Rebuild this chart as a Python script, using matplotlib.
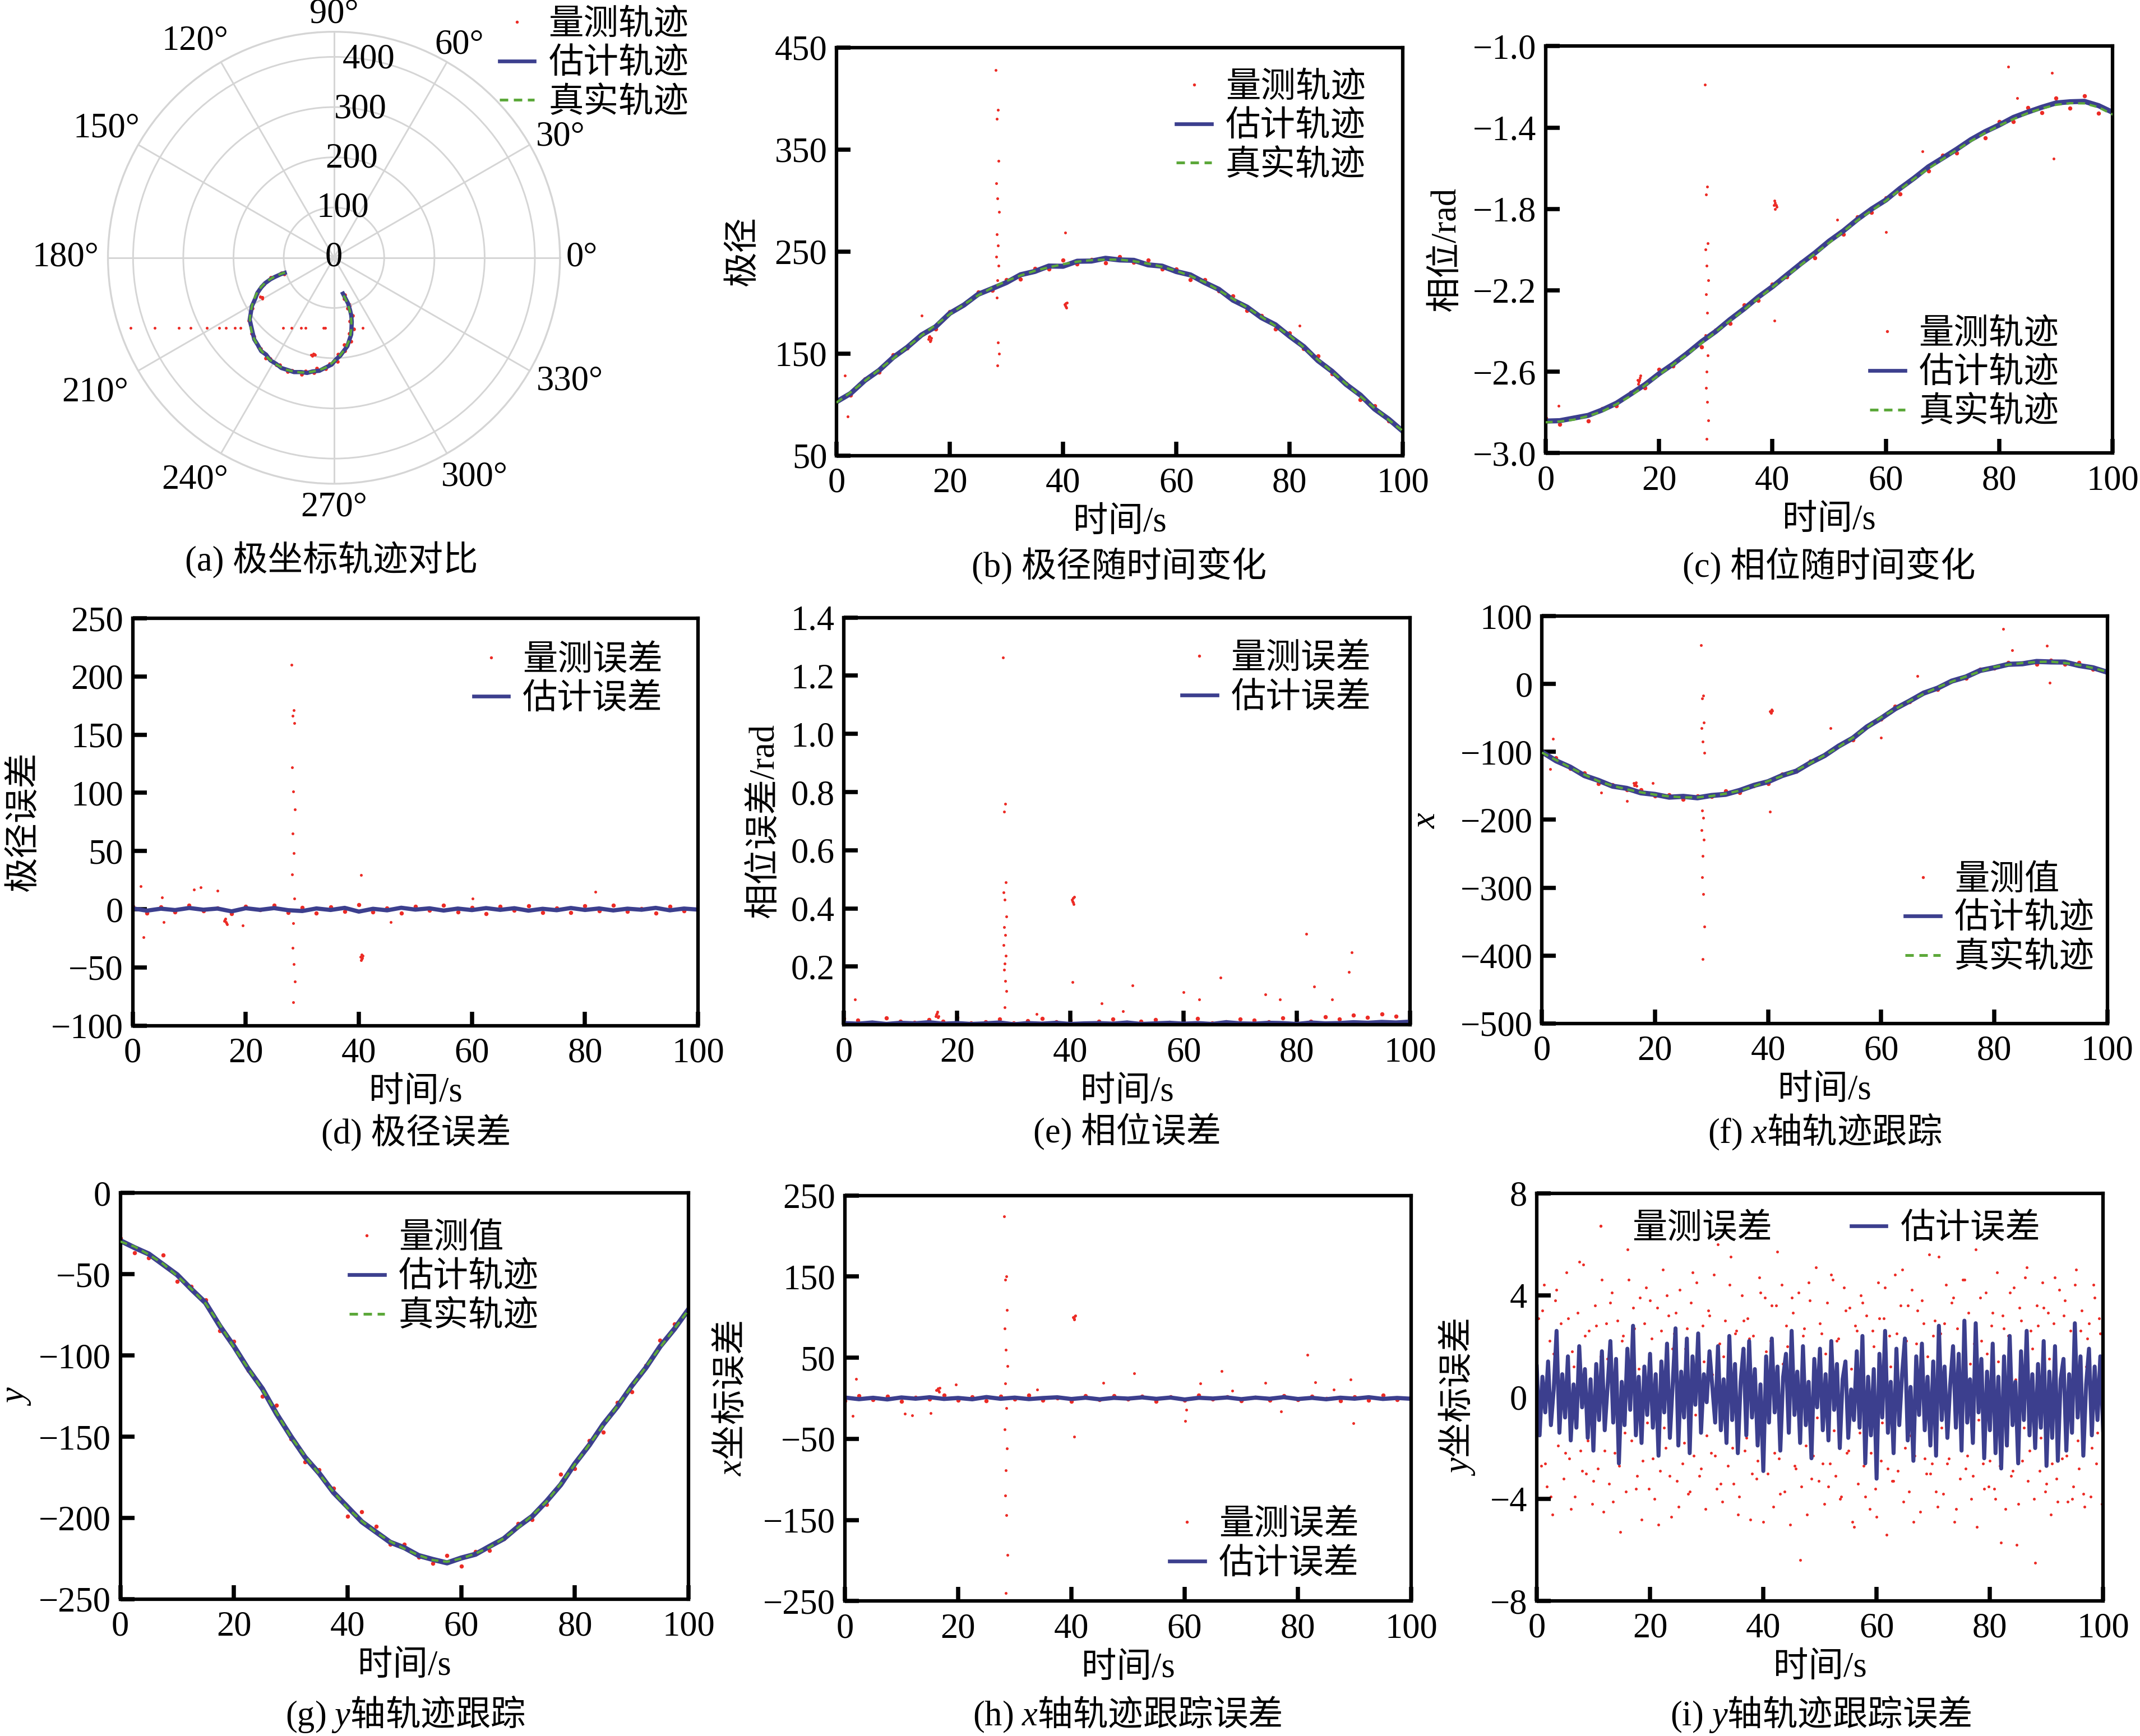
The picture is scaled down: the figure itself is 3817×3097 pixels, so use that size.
import numpy as np
import matplotlib
matplotlib.use("Agg")
import matplotlib.pyplot as plt
from matplotlib.lines import Line2D

plt.rcParams['font.family'] = ['Liberation Serif', 'Noto Sans CJK SC']
plt.rcParams['font.size'] = 15
plt.rcParams['mathtext.fontset'] = 'custom'
plt.rcParams['mathtext.rm'] = 'Liberation Serif'
plt.rcParams['mathtext.it'] = 'Liberation Serif:italic'

RED = '#ec2b25'
NAVY = '#3c3f8e'
GREEN = '#5ca83a'
CJK = 'Noto Sans CJK SC'

# time axes
t = np.arange(0, 100.01, 2.5)          # 41 samples
t_fine = np.arange(0, 100.01, 0.5)     # 201 samples, panel (i)
t_fine_b = np.arange(0.25, 100, 0.5)   # 200 extra measurement samples, panel (i)

# true tracks
rho_true = [101.8, 112, 123, 134, 145, 156.5, 167.5, 178, 188.5, 198,
            207, 214.5, 221, 226.5, 231, 234.5, 237.5, 240, 241.5, 242,
            242, 240.5, 238, 235, 231, 226, 220, 212, 203.5, 195,
            186, 177, 167.5, 156, 144, 132, 120, 108, 96.5, 85,
            74]
theta_true = [-2.849, -2.845, -2.836, -2.818, -2.795, -2.760, -2.719, -2.668, -2.616, -2.565,
              -2.514, -2.460, -2.404, -2.350, -2.295, -2.240, -2.185, -2.130, -2.075, -2.020,
              -1.966, -1.911, -1.856, -1.807, -1.760, -1.705, -1.651, -1.602, -1.555, -1.510,
              -1.466, -1.426, -1.390, -1.358, -1.329, -1.306, -1.288, -1.280, -1.281, -1.300,
              -1.336]
x_true = [-101, -112, -123, -133.5, -143, -150, -155, -159.5, -163, -165.5,
          -167, -167, -165, -161.5, -157, -150.5, -143, -135.5, -127, -116.5,
          -105, -92.5, -79, -64, -49, -37, -25, -14.5, -5, 3.5,
          11, 18.5, 25, 28.5, 31, 32.5, 33, 31, 28, 23.5,
          18]
y_true = [-29.8, -33, -37.8, -43.5, -51, -59, -68, -81, -95, -108,
          -121, -135.5, -150, -162, -173, -184, -194, -202, -209, -214.5,
          -219, -223, -226, -227, -225, -222, -218, -212.5, -206, -198.5,
          -190, -179, -167, -155, -143, -131, -119, -107, -95, -83.5,
          -72]

# errors on the 41-sample grid
rho_err_est = [0.8, -1.2, 0.5, -0.7, 1.1, -0.4, 0.6, -1.8, 0.9, -0.5,
               1.0, -0.8, -1.5, 0.7, -0.6, 1.2, -2.0, 0.4, -0.9, 1.3,
               -0.3, 0.8, -1.1, 0.6, -0.7, 1.0, -0.5, 0.9, -1.2, 0.4,
               -0.8, 1.1, -0.6, 0.7, -1.0, 0.5, -0.4, 1.2, -0.9, 0.6,
               -0.3]
rho_err_meas = [2.5, -3.1, 1.8, -2.4, 3.6, -1.2, 0.9, -3.8, 2.7, -0.6,
                3.2, -2.9, 1.4, -3.5, 2.1, -1.7, 3.9, -2.2, 0.8, -3.3,
                2.6, -1.0, 3.4, -2.5, 1.6, -3.7, 2.3, -0.9, 3.0, -2.8,
                1.1, -3.0, 2.8, -1.5, 3.5, -2.0, 0.7, -3.4, 2.4, -1.3,
                2.9]
x_err_est = [0.9, -1.1, 0.6, -1.4, 1.0, -0.5, 1.3, -0.8, 0.4, -1.2,
             1.5, -0.6, 0.8, -1.0, 0.3, 1.2, -0.9, 0.7, -1.3, 0.5,
             -0.4, 1.1, -0.7, 0.9, -1.5, 0.6, -0.3, 1.0, -1.1, 0.8,
             -0.6, 1.4, -0.9, 0.5, -1.2, 0.7, -0.5, 1.3, -0.8, 0.4,
             -0.6]
x_err_meas = [-2.8, 3.3, -1.5, 2.6, -3.9, 1.2, -0.8, 3.7, -2.3, 1.9,
              -3.2, 2.4, -1.1, 4.0, -2.7, 0.6, -3.5, 2.9, -1.8, 3.1,
              -0.7, 2.2, -3.6, 1.4, -2.5, 3.8, -1.2, 2.0, -3.0, 0.9,
              -2.6, 3.4, -1.6, 2.7, -0.5, -3.3, 1.7, -2.1, 3.6, -1.4,
              2.3]
y_track_err_est = [0.5, -0.6, 0.3, -0.4, 0.7, -0.2, 0.4, -0.8, 0.6, -0.3,
                   0.5, -0.5, 0.2, -0.6, 0.4, -0.3, 0.7, -0.4, 0.3, -0.5,
                   0.6, -0.2, 0.4, -0.7, 0.3, -0.4, 0.5, -0.3, 0.6, -0.5,
                   0.2, -0.6, 0.4, -0.3, 0.7, -0.4, 0.3, -0.5, 0.6, -0.2,
                   0.4]
theta_err_est = [0.006, 0.004, 0.008, 0.003, 0.007, 0.005, 0.009, 0.004, 0.006, 0.003,
                 0.005, 0.008, 0.002, 0.006, 0.004, 0.007, 0.003, 0.005, 0.006, 0.004,
                 0.008, 0.003, 0.005, 0.007, 0.004, 0.006, 0.003, 0.009, 0.005, 0.004,
                 0.007, 0.006, 0.003, 0.008, 0.005, 0.006, 0.009, 0.007, 0.010, 0.008,
                 0.011]
theta_err_meas = [0.021, -0.015, 0.009, -0.024, 0.013, -0.008, 0.018, -0.012, 0.026, -0.006,
                  0.011, -0.019, 0.007, -0.014, 0.022, -0.010, 0.016, -0.005, 0.012, -0.020,
                  0.008, -0.013, 0.017, -0.009, 0.015, -0.021, 0.006, -0.011, 0.019, -0.016,
                  0.010, -0.024, 0.018, -0.012, 0.028, -0.020, 0.033, -0.025, 0.038, -0.030,
                  0.044]

# y error on the fine grid (panel i)
y_err_est = [1.2, -1.5, 0.8, -0.6, 1.4, -1.1, 0.3, 2.6, -1.4, 0.9, -0.8, 1.6, -1.7, 0.5, -1.2, 2.0, -0.4, 1.1, -1.6, 0.7,
             -2.1, 1.3, -0.9, 1.8, -1.3, 0.4, 2.2, -1.0, 1.5, -2.6, 0.6, -1.1, 1.9, -0.5, 2.8, -1.5, 0.8, -1.8, 1.2, -0.7,
             1.7, -1.2, 0.9, -2.3, 1.4, -0.6, 2.1, -1.6, 0.5, 2.7, -1.9, 1.0, -0.8, 2.3, -2.2, 1.6, -0.3, 2.5, -1.4, 0.9,
             -0.2, 1.8, 0.4, -1.0, 2.0, -1.3, 0.7, -1.8, 2.4, -0.9, 1.3, -2.2, 0.6, 1.9, -1.5, 2.2, -0.8, 1.1, -1.9, 0.5,
             -2.9, 1.6, -1.0, 2.3, -0.6, 1.2, -2.1, 0.8, 1.7, -1.4, 2.6, -0.7, 1.0, -1.8, 2.0, -1.1, 0.6, -2.4, 1.5, -0.4,
             1.9, -1.3, 0.9, -1.7, 2.2, -0.5, 1.3, -2.0, 0.7, 1.4, -1.6, 0.3, -0.9, 1.8, -1.2, 2.4, -2.6, 0.8, -1.5, 1.1,
             -3.2, 1.7, -0.8, 2.6, -1.4, 0.6, -2.2, 1.9, -1.1, 0.9, 2.3, -1.7, 0.4, -2.5, 1.6, -0.7, 2.1, -1.3, 0.8, -1.9,
             1.4, -2.3, 2.8, -0.9, 1.2, -1.6, 0.5, 2.0, -1.2, 1.7, -2.1, 3.0, -1.0, 0.7, -1.8, 2.9, -0.6, 1.5, -2.4, 1.0,
             -1.3, 2.1, -2.2, 0.8, -2.8, 1.6, -1.9, 2.4, -1.1, 0.6, -2.6, 1.8, -0.9, 2.6, -1.5, 0.9, -2.0, 1.3, -1.2, 2.2,
             -2.7, 1.0, -1.6, 2.0, -2.5, 0.7, 1.5, -2.1, 0.9, -1.4, 2.9, -0.8, 1.6, -2.3, 0.5, 1.9, -1.5, 1.2, -0.9, 1.6,
             -1.3]
y_err_meas = [2.1, -0.8, 3.4, -2.6, 0.4, -3.9, 1.7, 4.2, -1.3, 0.9, -2.2, 3.1, -4.4, 1.2, -0.6, 5.3, -2.9, 2.4, -1.7, 0.3,
              -3.3, 2.8, -0.9, 4.6, -2.1, 1.5, 3.7, -4.1, 0.6, -2.7, 2.2, -1.4, 5.8, -0.2, 3.5, -3.6, 1.1, -4.8, 2.9, -1.0,
              3.8, -2.4, 0.8, -5.0, 2.6, -1.2, 4.0, -3.1, 1.9, 3.3, -4.3, 0.5, -1.8, 2.7, -3.7, 4.9, -0.7, 2.0, -2.8, 1.4,
              -1.5, 3.2, 0.9, -2.3, 6.0, -3.4, 1.6, -0.4, 4.4, -2.0, 2.5, -4.6, 1.0, 3.0, -1.6, 2.3, -3.0, 0.7, -2.5, 4.1,
              -4.9, 1.8, -0.5, 3.6, -2.2, 5.7, -3.8, 1.3, 2.8, -1.1, 3.9, -2.7, 0.2, -6.4, 2.4, -1.9, 4.5, -3.2, 1.5, -0.8,
              2.9, -2.6, 1.7, -3.5, 4.8, -1.3, 2.2, -4.0, 0.9, 3.4, -2.1, 1.1, -5.1, 2.6, -1.4, 3.7, -3.9, 0.6, -2.2, 2.0,
              -4.7, 3.1, -1.0, 4.3, -2.8, 1.2, -3.3, 2.5, -0.6, 5.0, -2.0, 3.6, -1.5, -4.9, 2.1, -0.3, 3.8, -2.4, 1.6, -3.0,
              2.4, -3.7, 5.5, -1.2, 2.9, -2.6, 1.0, 3.9, -4.4, 0.8, -1.8, 4.6, -2.3, 1.3, -3.1, 5.8, -0.9, 2.2, -3.6, 1.7,
              -2.5, 3.3, -4.0, 1.4, -5.7, 2.7, -1.9, 4.1, -2.9, 0.7, -4.2, 3.0, -1.2, 5.1, -2.1, 1.9, -6.5, 2.8, -1.6, 3.5,
              -3.4, 1.5, -2.6, 4.7, -4.1, 1.0, 3.2, -2.3, 0.8, -4.0, 4.4, -1.7, 2.6, -3.8, 1.2, 2.9, -2.0, 3.9, -1.4, 2.5,
              -2.2]
y_err_meas_b = [3.1, -2.7, 4.4, -3.5, 2.2, -4.6, 3.8, -1.9, 2.9, -3.2, 4.9, -2.4, 1.8, -3.9, 3.3, -2.1, 5.2, -3.0, 2.6, -4.2,
                3.6, -2.8, 1.6, -4.5, 2.9, -3.4, 4.1, -2.2, 3.0, -5.3, 2.4, -3.7, 4.6, -1.7, 2.7, -3.1, 3.9, -2.5, 4.3, -3.6,
                2.3, -4.0, 3.5, -2.9, 5.0, -2.0, 3.2, -4.7, 2.5, -3.3, 4.2, -2.6, 1.9, -3.8, 3.7, -2.3, 4.5, -3.1, 2.8, -4.4,
                3.4, -2.2, 4.8, -3.6, 2.1, -4.1, 3.0, -2.7, 5.5, -3.4, 2.6, -3.9, 4.0, -2.1, 3.1, -4.8, 2.4, -3.2, 4.7, -2.5,
                3.9, -3.0, 2.2, -4.3, 3.6, -2.4, 4.4, -3.7, 2.0, -5.0, 3.3, -2.8, 4.1, -3.5, 2.7, -4.6, 3.8, -2.3, 5.1, -3.3,
                2.5, -4.2, 3.7, -2.6, 4.6, -3.1, 2.3, -3.9, 4.3, -2.2, 3.5, -4.9, 2.8, -3.4, 4.0, -2.7, 3.2, -4.4, 2.6, -3.6,
                4.5, -2.5, 3.1, -5.4, 2.4, -3.3, 4.8, -2.9, 3.6, -4.1, 2.2, -3.7, 4.2, -2.3, 3.4, -4.5, 2.9, -3.0, 5.6, -2.6,
                3.0, -4.3, 2.5, -3.8, 4.4, -2.4, 3.7, -4.9, 2.7, -3.2, 4.6, -2.8, 3.3, -4.0, 2.1, -5.1, 3.9, -2.6, 4.1, -3.5,
                2.8, -3.6, 4.9, -2.7, 3.2, -4.4, 2.4, -3.1, 4.3, -5.8, 3.5, -2.5, 4.7, -3.3, 2.6, -4.0, 3.6, -2.9, 4.5, -3.7,
                3.3, -4.6, 2.9, -3.2, 4.2, -2.4, 3.8, -4.1, 2.6, -3.5, 5.0, -2.8, 3.4, -4.3, 2.3, -3.9, 4.4, -2.6, 3.1, -4.2]

# outlier burst around t = 28 s
t_spike = [28.1, 28.5, 28.3, 28.6, 28.2, 28.4, 28.7, 28.3, 28.5, 28.2, 28.6, 28.4, 28.3, 28.5, 28.7, 28.4]
rho_spike = [428, 389, 380, 339, 317, 302, 289, 267, 256, 245, 236, 222, 205, 161, 150, 138]
theta_spike = [-1.19, -1.69, -1.73, -1.97, -2.00, -2.08, -2.15, -2.22, -2.31, -2.42, -2.52, -2.60, -2.68, -2.75, -2.84, -2.93]
rho_err_spike = [210, 171, 166, 160, 122, 101, 86, 65, 48, 30, 9, -12, -33, -47, -62, -80]
theta_err_spike = [1.263, 0.759, 0.733, 0.49, 0.455, 0.43, 0.373, 0.336, 0.308, 0.275, 0.238, 0.21, 0.19, 0.15, 0.117, 0.06]
x_spike = [57, -17, -21, -57, -65, -85, -101, -186, -197, -215, -229, -253, -285, -309, -357, -405]
x_err_spike = [224, 150, 146, 109, 86, 60, 40, 18, -12, -38, -62, -89, -120, -144, -193, -240]
y_spike = -140

# two small clusters of bad measurements
t_c1 = [16.2, 16.4, 16.6, 16.3, 16.5, 16.7]
t_c2 = [40.3, 40.5, 40.7, 40.4, 40.6, 40.5]
rho_c1 = [164, 167, 163, 166, 162, 165]
rho_c2 = [198, 196, 200, 197, 195, 199]
theta_c1 = [-2.64, -2.65, -2.63, -2.66, -2.64, -2.62]
theta_c2 = [-1.78, -1.77, -1.79, -1.76, -1.78, -1.80]
rho_err_c1 = [-10, -8, -12, -9, -11, -13]
rho_err_c2 = [-41, -43, -40, -44, -42, -39]
theta_err_c1 = [0.03, 0.04, 0.025, 0.035, 0.045, 0.03]
theta_err_c2 = [0.43, 0.42, 0.44, 0.425, 0.415, 0.435]
x_c1 = [-146, -148, -145, -149, -147, -150]
x_c2 = [-40, -42, -39, -41, -38, -43]
x_err_c1 = [10, 12, 8, 11, 9, 13]
x_err_c2 = [100, 98, 102, 99, 101, 97]

# stray single points
rho_stray_t = [2, 1.5, 15, 81.8, 40.4]
rho_stray = [88, 128.5, 187, 177, 268.6]
theta_stray_t = [81.6, 89.3, 83.2, 89.6, 66.5, 51.4, 60, 40.4, 2.3]
theta_stray = [-1.10, -1.13, -1.256, -1.552, -1.516, -1.853, -1.914, -2.349, -2.767]
rho_err_stray_t = [1.4, 1.9, 10.8, 12, 15, 19.5, 40.4, 45.6, 60.1, 81.8, 5.2, 5.5]
rho_err_stray = [20, -24, 17, 19, 16, -14, 29.5, -11, 9, 15, 10, -11]
theta_err_stray_t = [2, 40.4, 51, 45.5, 60, 66.5, 74.4, 77, 81.7, 83.1, 86.2, 89.2, 89.7, 49.3, 34, 62.8]
theta_err_stray = [0.087, 0.147, 0.135, 0.073, 0.112, 0.163, 0.105, 0.087, 0.313, 0.131, 0.087, 0.182, 0.25, 0.047, 0.037, 0.087]
x_stray_t = [81.6, 89.3, 83.2, 89.8, 66.4, 40.3, 51, 60, 2, 1.5, 10.5, 15, 19.6]
x_stray = [81, 56, 50, 2, 12, -188, -65, -79, -81, -125, -160, -172, -146]
x_err_stray_t = [2, 1.4, 19.6, 10.6, 11.9, 15.2, 34, 40.5, 45.6, 51.1, 60.1, 62.8, 66.5, 74.3, 77, 81.7, 83.1, 89.3, 89.8, 86.3, 60.3, 68.4]
x_err_stray = [24, -22, 17, -19, -21, -18, 11, -47.5, 19, 31, -28, 18, 33.5, 19, -16, 53.5, 20, 23, -31, 11, -14, 9]

# where the angle labels of panel (a) sit: (angle in degrees, radius in data units)
angle_label_pos = [(0, 494), (28, 511), (59.5, 492), (90, 485), (122.7, 513), (150.4, 521),
                   (180, 535), (209.5, 546), (238, 522), (270, 497), (302.6, 519), (332.3, 530)]

rho_true = np.array(rho_true)
theta_true = np.array(theta_true)
x_true = np.array(x_true)
y_true = np.array(y_true)
y_err_meas = np.array(y_err_meas)

rho_meas = rho_true + np.array(rho_err_meas)
theta_meas = theta_true + np.array(theta_err_meas)
x_meas = x_true + np.array(x_err_meas)
y_meas = y_true + y_err_meas[::5]

fig = plt.figure(figsize=(3817 / 300, 3097 / 300), dpi=300)
W, H = 1568.0, 1273.0


def rect(l, t_, r, b):
    return [l / W, 1 - b / H, (r - l) / W, (b - t_) / H]


def dots(ax, xs, ys, ms=1.2):
    ax.plot(xs, ys, ls='none', marker='o', ms=ms, mfc=RED, mec='none', zorder=1)


def style(ax, ylim, yticks, ylabel, labx):
    ax.set_xlim(0, 100)
    ax.set_xticks(range(0, 101, 20))
    ax.set_ylim(*ylim)
    ax.set_yticks(yticks)
    ax.tick_params(direction='in', length=6, width=1.8, top=False, right=False, labelsize=15)
    ax.tick_params(axis='x', pad=5)
    ax.tick_params(axis='y', pad=4)
    for s in ax.spines.values():
        s.set_linewidth(1.5)
    ax.set_xlabel('时间/s', labelpad=3)
    ax.set_ylabel(ylabel, family=CJK if '$' in ylabel else None)
    ax.yaxis.set_label_coords(labx, 0.5)


h_meas = Line2D([], [], ls='none', marker='o', ms=1.3, mfc=RED, mec='none')
h_est = Line2D([], [], color=NAVY, lw=1.6)
h_true = Line2D([], [], color=GREEN, lw=1.2, ls=(0, (3, 2)))


def legend(handles, labels, x, y, ncol=1, colsp=2.0):
    # x: left end of the handles, y: centre of the first row (reference pixels)
    fig.legend(handles, labels, loc='upper left', bbox_to_anchor=(x / W, 1 - (y - 7) / H),
               frameon=False, borderpad=0, borderaxespad=0, handlelength=1.0,
               handletextpad=0.4, labelspacing=0.18, ncol=ncol, columnspacing=colsp,
               fontsize=15)


def caption(text, cx, cy, **kw):
    fig.text(cx / W, 1 - cy / H, text, ha='center', va='center', fontsize=15, **kw)


# (a) polar track
ax = fig.add_axes(rect(79, 23.3, 410.4, 354.7), projection='polar')
ax.plot(theta_meas, rho_meas, ls='none', marker='o', ms=1.6, mfc=RED, mec='none', zorder=1)
ax.plot(theta_c1, rho_c1, ls='none', marker='o', ms=1.2, mfc=RED, mec='none')
ax.plot(theta_c2, rho_c2, ls='none', marker='o', ms=1.2, mfc=RED, mec='none')
xs = np.array(x_spike)
ax.plot(np.arctan2(y_spike, xs), np.hypot(xs, y_spike), ls='none', marker='o', ms=1.2, mfc=RED, mec='none')
ax.plot(theta_true + np.array(theta_err_est), rho_true + np.array(rho_err_est), color=NAVY, lw=1.8, zorder=2)
ax.plot(theta_true, rho_true, color=GREEN, lw=1.0, ls=(0, (3, 2)), zorder=3)
ax.set_ylim(0, 450)
ax.set_yticks([0, 100, 200, 300, 400])
ax.set_yticklabels([])
for r in [0, 100, 200, 300, 400]:
    ax.text(np.deg2rad(80), r, str(r), ha='center', va='center', fontsize=15)
ax.set_thetagrids(range(0, 360, 30))
ax.set_xticklabels([])
for (a, r), lab in zip(angle_label_pos, range(0, 360, 30)):
    ax.text(np.deg2rad(a), r, f'{lab}°', ha='center', va='center', fontsize=15, clip_on=False)
ax.grid(color='#d5d5d5', lw=0.7)
ax.spines['polar'].set_color('#d5d5d5')
ax.spines['polar'].set_linewidth(0.8)
legend([h_meas, h_est, h_true], ['量测轨迹', '估计轨迹', '真实轨迹'], 366, 14)
caption('(a) 极坐标轨迹对比', 243, 411)

# (b) radius vs time
ax = fig.add_axes(rect(612.9, 34.8, 1027.9, 334))
dots(ax, t, rho_meas, 1.8)
dots(ax, t_spike, rho_spike)
dots(ax, t_c1, rho_c1)
dots(ax, t_c2, rho_c2)
dots(ax, rho_stray_t, rho_stray)
ax.plot(t, rho_true + np.array(rho_err_est), color=NAVY, lw=2.2, zorder=2)
ax.plot(t, rho_true, color=GREEN, lw=1.0, ls=(0, (3, 2)), zorder=3)
style(ax, (50, 450), [50, 150, 250, 350, 450], '极径', -0.135)
legend([h_meas, h_est, h_true], ['量测轨迹', '估计轨迹', '真实轨迹'], 862, 60)
caption('(b) 极径随时间变化', 820, 415)

# (c) phase vs time
ax = fig.add_axes(rect(1132.5, 33.9, 1548, 332.2))
dots(ax, t, theta_meas, 1.8)
dots(ax, t_spike, theta_spike)
dots(ax, t_c1, theta_c1)
dots(ax, t_c2, theta_c2)
dots(ax, theta_stray_t, theta_stray)
ax.plot(t, theta_true + np.array(theta_err_est), color=NAVY, lw=2.2, zorder=2)
ax.plot(t, theta_true, color=GREEN, lw=1.0, ls=(0, (3, 2)), zorder=3)
style(ax, (-3.0, -1.0), [-3.0, -2.6, -2.2, -1.8, -1.4, -1.0], '相位/rad', -0.146)
legend([h_meas, h_est, h_true], ['量测轨迹', '估计轨迹', '真实轨迹'], 1370, 241)
caption('(c) 相位随时间变化', 1340, 415)

# (d) radius error
ax = fig.add_axes(rect(97.2, 453.4, 511.5, 752.1))
dots(ax, t, rho_err_meas, 1.8)
dots(ax, t_spike, rho_err_spike)
dots(ax, t_c1, rho_err_c1)
dots(ax, t_c2, rho_err_c2)
dots(ax, rho_err_stray_t, rho_err_stray)
ax.plot(t, rho_err_est, color=NAVY, lw=1.8, zorder=2)
style(ax, (-100, 250), range(-100, 251, 50), '极径误差', -0.162)
legend([h_meas, h_est], ['量测误差', '估计误差'], 347, 480)
caption('(d) 极径误差', 305, 831)

# (e) phase error
ax = fig.add_axes(rect(618.3, 452.8, 1033.2, 751.5))
dots(ax, t, np.abs(theta_err_meas), 1.8)
dots(ax, t_spike, theta_err_spike)
dots(ax, t_c1, theta_err_c1)
dots(ax, t_c2, theta_err_c2)
dots(ax, theta_err_stray_t, theta_err_stray)
ax.plot(t, theta_err_est, color=NAVY, lw=1.8, zorder=2)
style(ax, (0, 1.4), [0.2, 0.4, 0.6, 0.8, 1.0, 1.2, 1.4], '相位误差/rad', -0.111)
legend([h_meas, h_est], ['量测误差', '估计误差'], 866, 479)
caption('(e) 相位误差', 826, 830)

# (f) x track
ax = fig.add_axes(rect(1129.8, 451.8, 1544, 750.5))
dots(ax, t, x_meas, 1.8)
dots(ax, t_spike, x_spike)
dots(ax, t_c1, x_c1)
dots(ax, t_c2, x_c2)
dots(ax, x_stray_t, x_stray)
ax.plot(t, x_true + np.array(x_err_est), color=NAVY, lw=2.2, zorder=2)
ax.plot(t, x_true, color=GREEN, lw=1.0, ls=(0, (3, 2)), zorder=3)
style(ax, (-500, 100), range(-500, 101, 100), '$x$', -0.176)
legend([h_meas, h_est, h_true], ['量测值', '估计轨迹', '真实轨迹'], 1396, 641)
caption(r'$\mathrm{(f)}\ x$轴轨迹跟踪', 1337, 830, family=CJK)

# (g) y track
ax = fig.add_axes(rect(88.2, 874.9, 504.5, 1172.6))
dots(ax, t, y_meas, 1.8)
ax.plot(t, y_true + np.array(y_track_err_est), color=NAVY, lw=2.2, zorder=2)
ax.plot(t, y_true, color=GREEN, lw=1.0, ls=(0, (3, 2)), zorder=3)
style(ax, (-250, 0), range(-250, 1, 50), '$y$', -0.155)
legend([h_meas, h_est, h_true], ['量测值', '估计轨迹', '真实轨迹'], 256, 904)
caption(r'$\mathrm{(g)}\ y$轴轨迹跟踪', 297, 1257, family=CJK)

# (h) x error
ax = fig.add_axes(rect(619, 876.6, 1034, 1174.1))
dots(ax, t, x_err_meas, 1.8)
dots(ax, t_spike, x_err_spike)
dots(ax, t_c1, x_err_c1)
dots(ax, t_c2, x_err_c2)
dots(ax, x_err_stray_t, x_err_stray)
ax.plot(t, x_err_est, color=NAVY, lw=1.8, zorder=2)
style(ax, (-250, 250), [-250, -150, -50, 50, 150, 250], '$x$坐标误差', -0.169)
legend([h_meas, h_est], ['量测误差', '估计误差'], 857, 1114)
caption(r'$\mathrm{(h)}\ x$轴轨迹跟踪误差', 826, 1257, family=CJK)

# (i) y error
ax = fig.add_axes(rect(1126, 875, 1541, 1174))
dots(ax, t_fine, y_err_meas)
dots(ax, t_fine_b, y_err_meas_b)
ax.plot(t_fine, y_err_est, color=NAVY, lw=1.7, zorder=2)
style(ax, (-8, 8), [-8, -4, 0, 4, 8], '$y$坐标误差', -0.106)
legend([h_meas, h_est], ['量测误差', '估计误差'], 1160, 897, ncol=2, colsp=2.25)
caption(r'$\mathrm{(i)}\ y$轴轨迹跟踪误差', 1334, 1257, family=CJK)

fig.savefig('out.png', dpi=300)
